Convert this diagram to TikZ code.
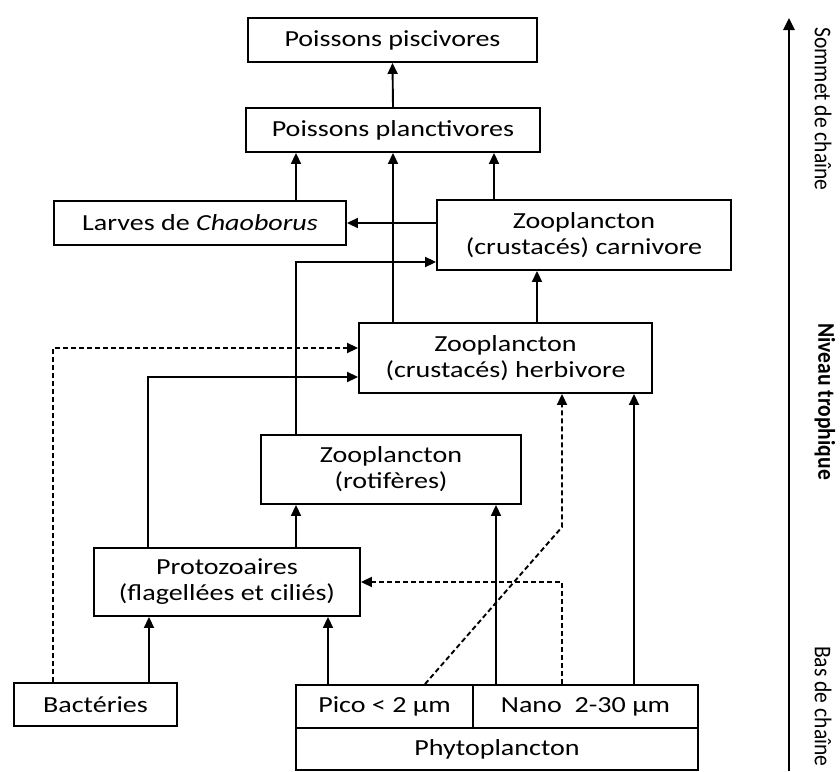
\documentclass[tikz,border=0pt]{standalone}
\usepackage{fontspec}
\setmainfont{Carlito}[FakeStretch=1.22]
\newfontfamily\sidefont{Carlito}[FakeStretch=0.9]
\usetikzlibrary{arrows.meta}
\begin{document}
\begin{tikzpicture}[x=1pt,y=-1pt,
  boxn/.style={draw,fill=white,line width=1.9pt,inner sep=0pt,align=center,font=\fontsize{23}{26}\selectfont},
  arr/.style={line width=1.9pt,-{Triangle[length=11pt,width=10pt]}},
  darr/.style={arr,dash pattern=on 5pt off 3pt},
  sidelab/.style={rotate=-90,anchor=west,inner sep=0pt,font=\sidefont\fontsize{24}{26}\selectfont}]
\useasboundingbox (0,0) rectangle (840,771);
% boxes
\node[boxn,minimum width=289pt,minimum height=44pt] (pisc) at (392.5,40) {Poissons piscivores};
\node[boxn,minimum width=294pt,minimum height=44pt] (planc) at (393,130) {Poissons planctivores};
\node[boxn,minimum width=292pt,minimum height=44pt] (larves) at (200,223) {Larves de \textit{Chaoborus}};
\node[boxn,minimum width=294pt,minimum height=70pt] (carn) at (584,235) {Zooplancton\\(crustacés) carnivore};
\node[boxn,minimum width=293pt,minimum height=70pt] (herb) at (505.5,358) {Zooplancton\\(crustacés) herbivore};
\node[boxn,minimum width=260pt,minimum height=69pt] (rot) at (391,469.5) {Zooplancton\\(rotifères)};
\node[boxn,minimum width=266pt,minimum height=68pt] (proto) at (227,582) {Protozoaires\\(flagellées et ciliés)};
\node[boxn,minimum width=163pt,minimum height=43pt] (bact) at (95.5,704.5) {Bactéries};
\node[boxn,minimum width=177pt,minimum height=43pt] (pico) at (384.5,706.5) {Pico < 2 µm};
\node[boxn,minimum width=225pt,minimum height=43pt] (nano) at (585.5,706.5) {Nano\ \ 2-30 µm};
\node[boxn,minimum width=402pt,minimum height=42pt] (phyto) at (497,749) {Phytoplancton};
% helper coordinates
\coordinate (xa) at (296,0);
\coordinate (xb) at (494,0);
\coordinate (xc) at (537,0);
\coordinate (xd) at (496,0);
\coordinate (xe) at (634,0);
\coordinate (xf) at (562,0);
\coordinate (xg) at (149,0);
\coordinate (xh) at (328,0);
\coordinate (xi) at (53,0);
\coordinate (xj) at (148,0);
\coordinate (xk) at (425,0);
\coordinate (bend) at (562,527);
% connectors
\draw[arr] (planc.north) -- (pisc.south);
\draw[arr] (larves.north -| xa) -- (planc.south -| xa);
\draw[arr] (herb.north -| planc.south) -- (planc.south);
\draw[arr] (carn.north -| xb) -- (planc.south -| xb);
\draw[arr] (carn.west |- larves.east) -- (larves.east);
\draw[arr] (rot.north -| xa) |- ([yshift=-27pt]carn.west);
\draw[arr] (herb.north -| xc) -- (carn.south -| xc);
\draw[darr] (bact.north -| xi) |- ([yshift=10pt]herb.west);
\draw[arr] (proto.north -| xj) |- ([yshift=-19pt]herb.west);
\draw[arr] (proto.north -| xa) -- (rot.south -| xa);
\draw[arr] (nano.north -| xd) -- (rot.south -| xd);
\draw[arr] (nano.north -| xe) -- (herb.south -| xe);
\draw[darr] (pico.north -| xk) -- (bend) -- (herb.south -| xf);
\draw[darr] (nano.north -| xf) |- (proto.east);
\draw[arr] (bact.north -| xg) -- (proto.south -| xg);
\draw[arr] (pico.north -| xh) -- (proto.south -| xh);
% trophic axis
\coordinate (axb) at (789,771);
\coordinate (axt) at (789,18);
\draw[line width=2.6pt,-{Triangle[length=12pt,width=11pt]}] (axb) -- (axt);
\node[sidelab] (lsom) at (823,27) {Sommet de chaîne};
\node[sidelab,font=\sidefont\fontsize{24}{26}\selectfont\bfseries] (lniv) at (825,323) {Niveau trophique};
\node[sidelab] (lbas) at (823,646) {Bas de chaîne};
\end{tikzpicture}
\end{document}
